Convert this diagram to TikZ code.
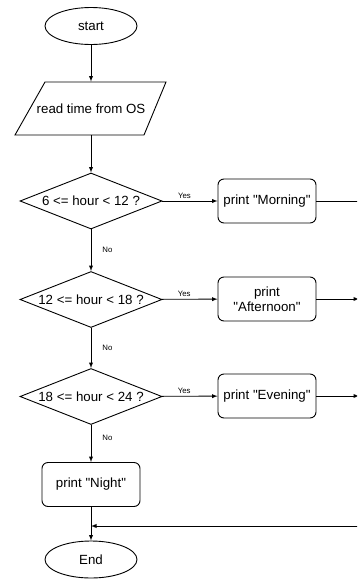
\documentclass[tikz,border=0pt]{standalone}
\usepackage{fontspec}
\setmainfont{Liberation Sans}[Ligatures=TeXOff]
\usepackage{tikz}
\usetikzlibrary{shapes,arrows}

\begin{document}
\begin{tikzpicture}[x=1pt, y=-1pt, line width=0.9pt, >=latex]
		\tikzstyle{every node}=[font=\fontsize{13.3}{15.5}\selectfont, inner sep=0pt];
		\tikzstyle{terminal}=[draw, shape=ellipse, minimum width=92pt, minimum height=37pt];
		\tikzstyle{io}=[minimum width=120pt, minimum height=53pt];
		\tikzstyle{decision}=[draw, shape=diamond, minimum width=142pt, minimum height=56pt];
		\tikzstyle{process}=[draw, rounded corners=6pt, minimum width=98pt, minimum height=44pt, align=center];
		\tikzstyle{edgelabel}=[font=\fontsize{7.8}{9}\selectfont, inner sep=2pt];
		\useasboundingbox (0,0) rectangle (357,579);
		\clip (0,0) rectangle (357,579);
		\node[terminal] (start) at (91, 26) {start};
		\node[io] (readtime) at (91, 108.5) {read time from OS};
		\draw (45, 82) -- (166, 82) -- (144, 135) -- (15, 135) -- cycle;
		\node[decision, label=center:{6 <= hour < 12 ?}] (morningtest) at (91, 201) {};
		\node[decision, label=center:{12 <= hour < 18 ?}] (afternoontest) at (91, 299.5) {};
		\node[decision, label=center:{18 <= hour < 24 ?}] (eveningtest) at (91, 396.5) {};
		\node[process] (morning) at (267, 201) {print "Morning"};
		\node[process] (afternoon) at (267, 299) {print\\"Afternoon"};
		\node[process] (evening) at (267, 396) {print "Evening"};
		\node[process] (night) at (91, 484.5) {print "Night"};
		\node[terminal] (end) at (91, 559.5) {End};
		\coordinate (merge) at (91, 526);
		\coordinate (righttop) at (359, 201);
		\coordinate (rightafternoon) at (359, 299);
		\coordinate (rightevening) at (359, 396);
		\coordinate (rightbottom) at (359, 526);
		\draw[->] (start) -- (readtime);
		\draw[->] (readtime) -- (morningtest);
		\draw[->] (morningtest) -- node[edgelabel, above, pos=0.4] {Yes} (morning);
		\draw[->] (afternoontest) -- node[edgelabel, above, pos=0.4] {Yes} (afternoon);
		\draw[->] (eveningtest) -- node[edgelabel, above, pos=0.4] {Yes} (evening);
		\draw[->] (morningtest) -- node[edgelabel, right=9pt] {No} (afternoontest);
		\draw[->] (afternoontest) -- node[edgelabel, right=9pt] {No} (eveningtest);
		\draw[->] (eveningtest) -- node[edgelabel, right=9pt, pos=0.35] {No} (night);
		\draw (morning) -- (righttop) -- (rightbottom);
		\draw[->] (afternoon) -- (rightafternoon);
		\draw[->] (evening) -- (rightevening);
		\draw[->] (rightbottom) -- (merge);
		\draw[->] (night) -- (end);
	\end{tikzpicture}
\end{document}
